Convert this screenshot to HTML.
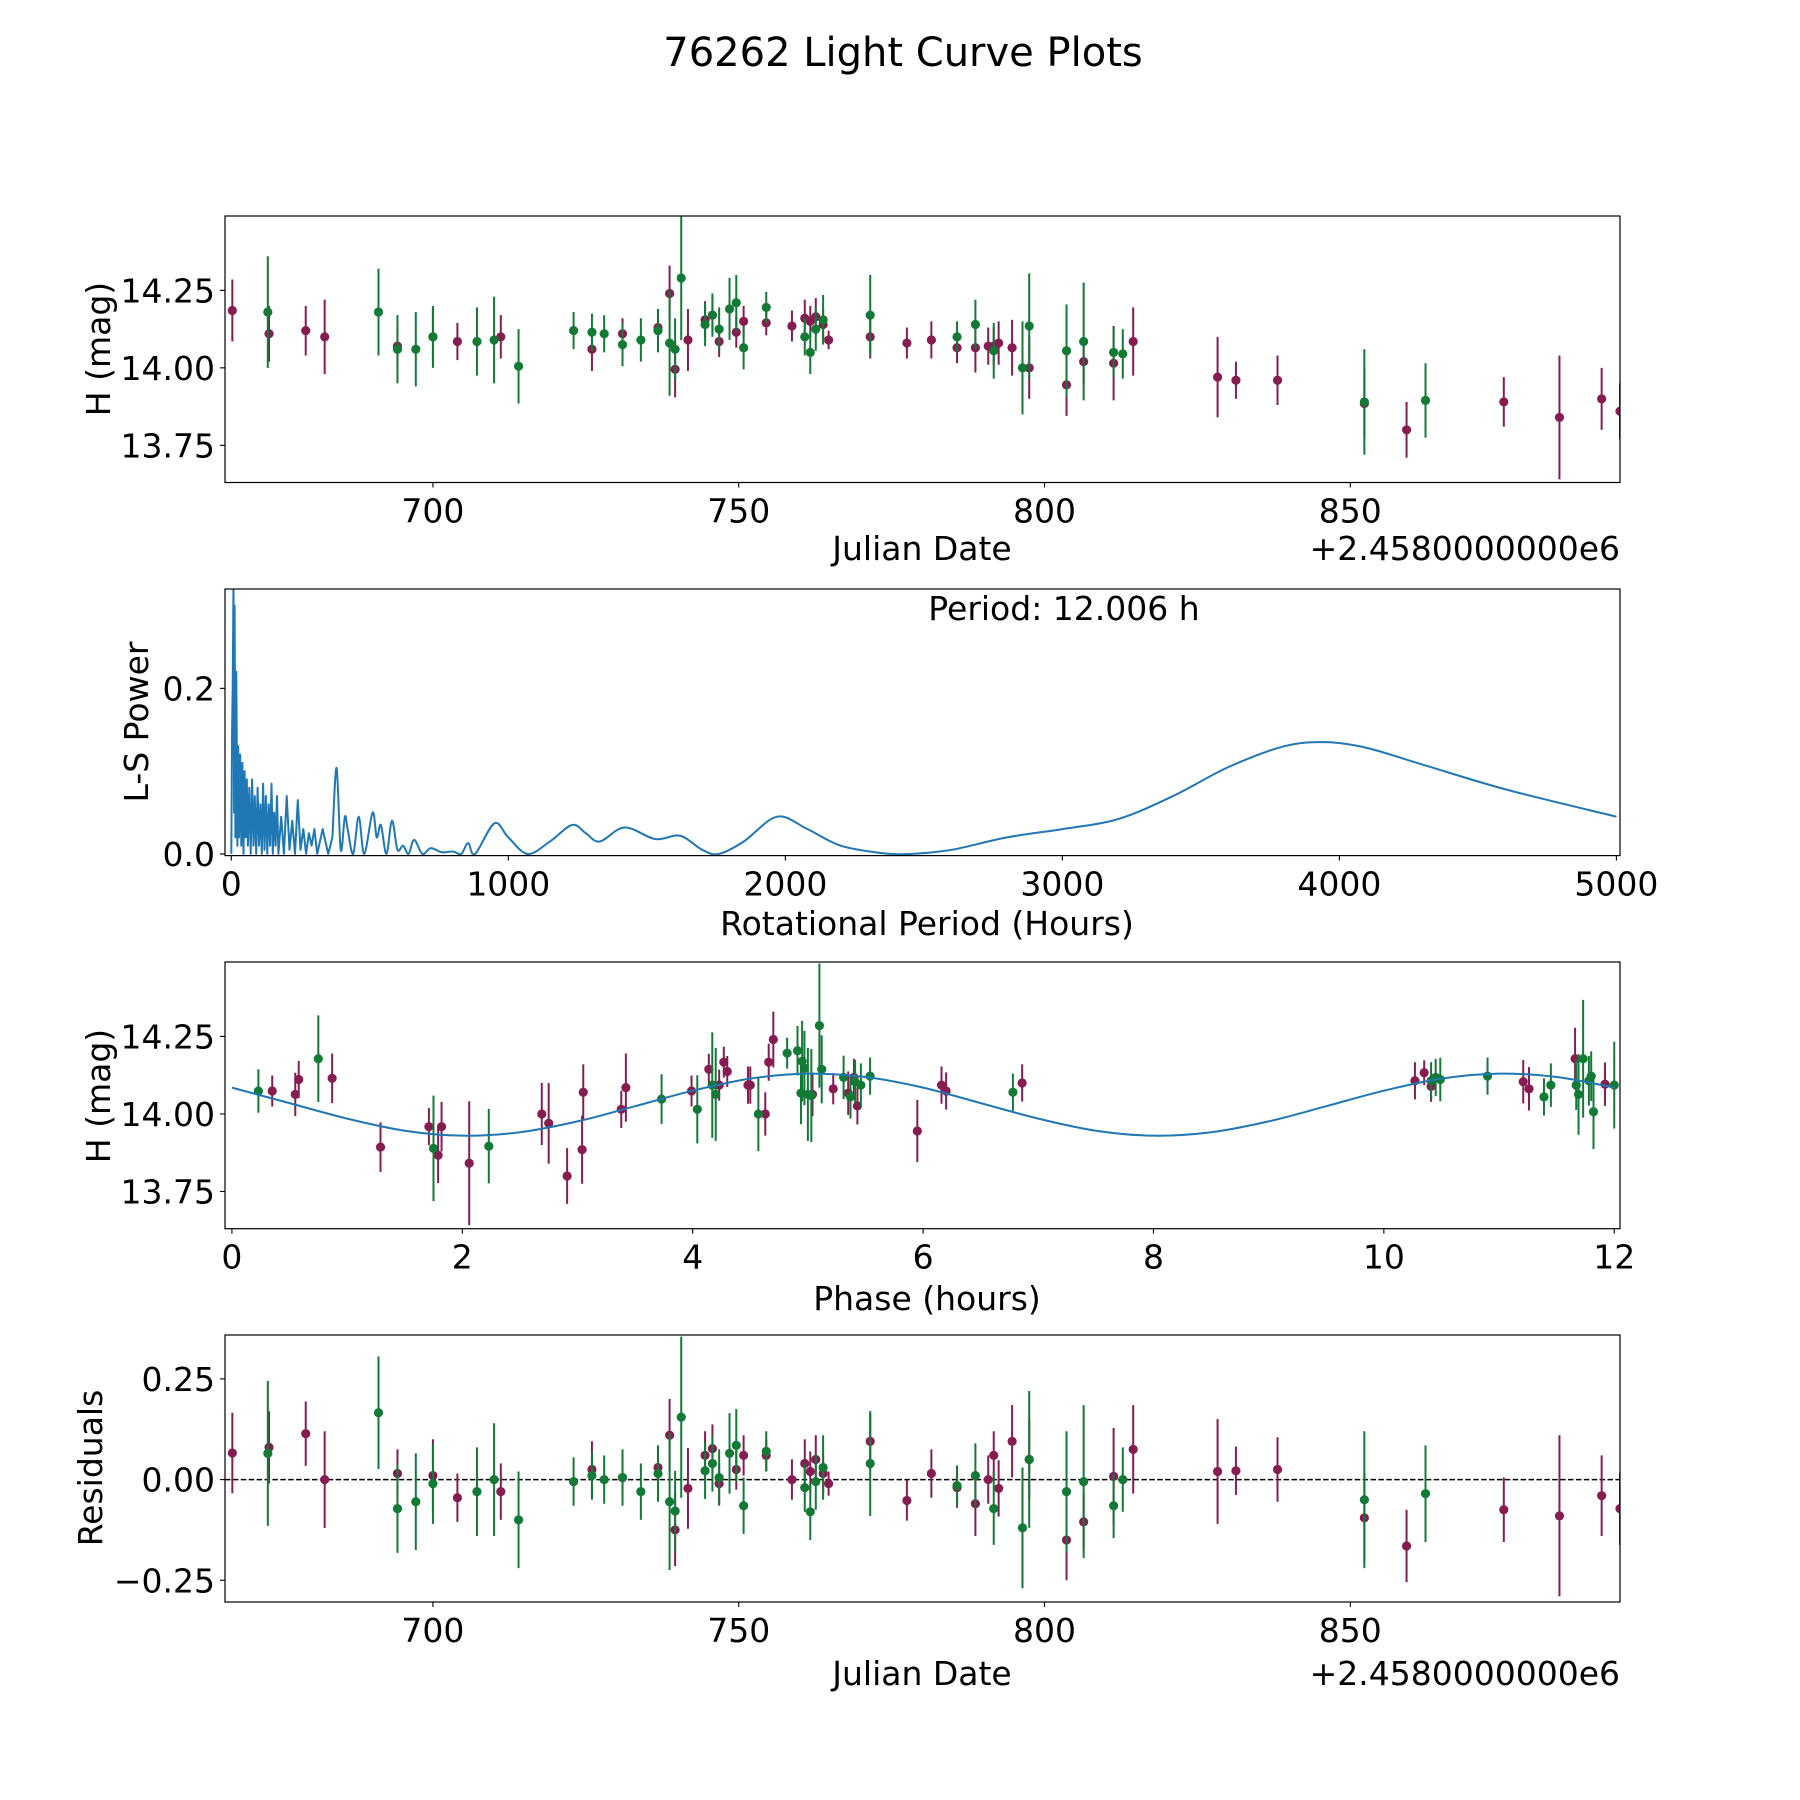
<!DOCTYPE html>
<html><head><meta charset="utf-8"><title>76262 Light Curve Plots</title>
<style>
html,body{margin:0;padding:0;background:#fff;}
svg{display:block;font-family:"DejaVu Sans","Liberation Sans",sans-serif;}
</style></head>
<body>
<svg id="fig" xmlns="http://www.w3.org/2000/svg" width="1800" height="1800" viewBox="0 0 1800 1800">
<rect width="1800" height="1800" fill="#fff"/>
<text x="903" y="66" font-size="40" text-anchor="middle">76262 Light Curve Plots</text>
</svg>
<script>
// ---- data: light curve (purple series) ----
const pDate=[667.2,673.2,679.2,682.3,694.2,700,704,711.1,726,731,736.8,738.7,739.6,741.7,744.5,745.7,746.8,749.6,750.8,754.5,758.7,760.8,761.7,762.6,763.8,764.7,771.5,777.5,781.5,785.7,788.7,790.8,791.7,792.5,794.7,797.5,803.6,806.4,811.3,814.5,828.3,831.3,838.1,852.3,859.2,875.1,884.2,891.1,894.1];
const pMag=[14.185,14.11,14.12,14.10,14.07,14.10,14.085,14.10,14.06,14.11,14.13,14.24,13.995,14.09,14.155,14.17,14.085,14.115,14.15,14.145,14.135,14.16,14.15,14.165,14.14,14.09,14.10,14.08,14.09,14.065,14.065,14.07,14.07,14.08,14.065,14.00,13.945,14.02,14.015,14.085,13.97,13.96,13.96,13.885,13.80,13.89,13.84,13.90,13.86];
const pErr=[0.10,0.09,0.08,0.12,0.06,0.09,0.06,0.07,0.07,0.05,0.05,0.09,0.09,0.10,0.06,0.06,0.05,0.05,0.05,0.04,0.05,0.06,0.05,0.06,0.05,0.03,0.07,0.05,0.06,0.05,0.08,0.06,0.06,0.07,0.09,0.10,0.10,0.07,0.12,0.11,0.13,0.06,0.08,0.11,0.09,0.08,0.20,0.10,0.09];
const pRes=[0.066,0.08,0.114,0.0,0.015,0.01,-0.045,-0.03,0.025,0.005,0.03,0.11,-0.125,-0.022,0.06,0.077,-0.01,0.025,0.06,0.06,0.0,0.04,0.02,0.05,0.015,-0.01,0.095,-0.052,0.015,-0.02,-0.06,0.0,0.06,-0.022,0.095,0.05,-0.15,-0.105,0.008,0.075,0.02,0.022,0.025,-0.095,-0.165,-0.075,-0.09,-0.04,-0.072];
// ---- data: light curve (green series) ----
const gDate=[673.0,691.1,694.2,697.2,700,707.2,710,714,723,726,728,731,734,736.8,738.7,739.6,740.6,744.5,745.7,746.8,748.5,749.6,750.8,754.5,760.8,761.7,762.6,763.8,771.5,785.7,788.7,791.7,796.4,797.5,803.6,806.4,811.3,812.8,852.3,862.3];
const gMag=[14.18,14.18,14.06,14.06,14.10,14.085,14.09,14.005,14.12,14.115,14.11,14.075,14.09,14.12,14.08,14.06,14.29,14.14,14.17,14.125,14.19,14.21,14.065,14.195,14.10,14.05,14.125,14.155,14.17,14.10,14.14,14.055,14.00,14.135,14.055,14.085,14.05,14.045,13.89,13.895];
const gErr=[0.18,0.14,0.11,0.12,0.10,0.11,0.14,0.12,0.06,0.06,0.06,0.07,0.07,0.07,0.17,0.10,0.20,0.07,0.07,0.07,0.10,0.09,0.07,0.05,0.06,0.07,0.07,0.08,0.13,0.05,0.08,0.09,0.15,0.17,0.15,0.19,0.08,0.08,0.17,0.12];
const gRes=[0.065,0.166,-0.072,-0.055,-0.01,-0.03,0.0,-0.10,-0.005,0.01,0.0,0.005,-0.03,0.015,-0.055,-0.078,0.155,0.022,0.04,0.005,0.065,0.085,-0.065,0.07,-0.02,-0.08,-0.005,0.03,0.04,-0.015,0.01,-0.072,-0.12,0.05,-0.03,-0.005,-0.065,0.0,-0.05,-0.035];
// ---- data: periodogram (dense short-period part + smooth long-period part) ----
const lsPeriod=[0,3,5,8,10,12,15,18,22,25,28,32,36,40,44,48,52,56,60,65,70,75,80,85,90,95,100,105,110,115,120,125,130,135,140,145,150,155,160,165,170,180,190,200,210,220,230,240,250,260,270,280,290,300,310,330,350,365];
const lsPower=[0.0,0.15,0.2,0.33,0.05,0.30,0.02,0.22,0.01,0.13,0.02,0.12,0.01,0.11,0.0,0.10,0.02,0.09,0.01,0.08,0.0,0.09,0.01,0.07,0.0,0.08,0.01,0.06,0.0,0.085,0.005,0.07,0.0,0.06,0.01,0.085,0.0,0.05,0.01,0.07,0.0,0.045,0.0,0.07,0.005,0.04,0.0,0.065,0.005,0.03,0.0,0.025,0.01,0.03,0.0,0.03,0.0,0.02];
const lsPeriodSmooth=[365,380,395,410,420,440,460,480,510,525,540,560,580,600,620,640,660,690,720,760,800,830,855,880,950,1000,1070,1150,1230,1280,1330,1420,1530,1620,1700,1760,1850,1970,2080,2200,2350,2450,2600,2800,3000,3200,3400,3600,3800,3950,4100,4300,4600,5000];
const lsPowerSmooth=[0.02,0.104,0.005,0.045,0.03,0.0,0.045,0.0,0.05,0.02,0.035,0.0,0.04,0.005,0.01,0.0,0.017,0.0,0.007,0.002,0.003,0.0,0.013,0.0,0.037,0.02,0.0,0.015,0.035,0.025,0.015,0.032,0.018,0.022,0.005,0.0,0.015,0.045,0.03,0.01,0.001,0.0,0.005,0.02,0.03,0.042,0.07,0.105,0.13,0.135,0.128,0.108,0.078,0.045];
const periodLabel="Period: 12.006 h";
// ---- data: phased light curve ----
const phP=[0.35,0.55,0.58,0.87,1.29,1.71,1.79,1.82,2.06,2.69,2.75,2.91,3.04,3.05,3.38,3.42,3.99,4.14,4.23,4.27,4.30,4.48,4.50,4.63,4.66,4.70,5.04,5.22,5.35,5.40,5.43,5.95,6.16,6.20,6.86,10.27,10.35,10.41,11.21,11.26,11.66,11.92];
const phPMag=[14.074,14.063,14.111,14.115,13.893,13.959,13.867,13.959,13.841,14.0,13.970,13.80,13.885,14.07,14.015,14.085,14.074,14.144,14.093,14.167,14.137,14.093,14.093,14.0,14.167,14.24,14.063,14.081,14.067,14.118,14.026,13.945,14.093,14.074,14.10,14.107,14.133,14.089,14.104,14.081,14.178,14.096];
const phPErr=[0.05,0.07,0.06,0.08,0.08,0.06,0.09,0.08,0.20,0.10,0.13,0.09,0.11,0.09,0.06,0.11,0.05,0.05,0.05,0.05,0.05,0.06,0.06,0.07,0.06,0.09,0.07,0.05,0.07,0.06,0.06,0.10,0.06,0.06,0.06,0.06,0.04,0.05,0.07,0.07,0.10,0.07];
const phG=[0.23,0.75,1.75,2.23,3.73,4.04,4.17,4.20,4.57,4.82,4.91,4.94,4.95,4.97,5.00,5.03,5.10,5.12,5.31,5.37,5.41,5.46,5.54,6.78,10.41,10.45,10.49,10.90,11.39,11.45,11.67,11.69,11.73,11.78,11.80,11.82,12.0];
const phGMag=[14.074,14.178,13.889,13.896,14.048,14.015,14.093,14.063,14.0,14.196,14.204,14.067,14.17,14.148,14.063,14.059,14.285,14.144,14.118,14.055,14.104,14.093,14.122,14.07,14.107,14.118,14.111,14.122,14.055,14.093,14.093,14.063,14.178,14.107,14.122,14.007,14.093];
const phGErr=[0.07,0.14,0.17,0.12,0.08,0.11,0.17,0.15,0.12,0.05,0.08,0.10,0.13,0.12,0.15,0.15,0.2,0.11,0.07,0.07,0.07,0.07,0.06,0.06,0.06,0.06,0.07,0.06,0.06,0.07,0.08,0.13,0.19,0.08,0.08,0.12,0.14];
const modelPhase=[0,0.5,1,1.5,2,2.5,3,3.5,4,4.5,5,5.5,6,6.5,7,7.5,8,8.5,9,9.5,10,10.5,11,11.5,12];
const modelMag=[14.085,14.035,13.985,13.946,13.93,13.941,13.976,14.025,14.075,14.114,14.13,14.119,14.085,14.035,13.985,13.946,13.93,13.941,13.976,14.025,14.075,14.114,14.13,14.119,14.085];
// ---- ticks ----
const jdTicks=[700,750,800,850];
const magTicks=[14.25,14.00,13.75];
const magTickLabels=["14.25","14.00","13.75"];
const lsXTicks=[0,1000,2000,3000,4000,5000];
const lsYTicks=[0.0,0.2];
const lsYTickLabels=["0.0","0.2"];
const phTicks=[0,2,4,6,8,10,12];
const resTicks=[0.25,0.00,-0.25];
const resTickLabels=["0.25","0.00","\u22120.25"];

const NS="http://www.w3.org/2000/svg";
const fig=document.getElementById('fig');
const PURPLE="#851d52", GREEN="#137a36", BLUE="#1f77b4";
const FS=33;
function mk(tag,attrs,parent){const e=document.createElementNS(NS,tag);for(const k in attrs)e.setAttribute(k,attrs[k]);(parent||fig).appendChild(e);return e;}
function axis(x0,x1,y0,y1,xmin,xmax,ymin,ymax){return {x0,x1,y0,y1,sx:v=>x0+(v-xmin)/(xmax-xmin)*(x1-x0),sy:v=>y1-(v-ymin)/(ymax-ymin)*(y1-y0)};}
const L=225,R=1620;
const A1=axis(L,R,216,482.5,666,894.1,13.63,14.49);
const A2=axis(L,R,589,855.6,-22.7,5013,-0.002,0.32);
const A3=axis(L,R,962,1228.7,-0.06,12.05,13.63,14.49);
const A4=axis(L,R,1335,1602,666,894.1,-0.304,0.359);

function frame(A,name){
  const g=mk('g',{});
  
  
  const clip=mk('clipPath',{id:name+'-clip'},g);
  mk('rect',{x:A.x0,y:A.y0,width:A.x1-A.x0,height:A.y1-A.y0},clip);
  const plot=mk('g',{'clip-path':'url(#'+name+'-clip)'},g);
  
  
  return {g,plot};
}
function border(A,g){
  const b=mk('rect',{x:A.x0,y:A.y0,width:A.x1-A.x0,height:A.y1-A.y0,fill:'none',stroke:'#000','stroke-width':1.2},g);
  
  
}
function xticks(A,g,ticks,labels){
  ticks.forEach((t,i)=>{const x=A.sx(t);
    mk('line',{x1:x,x2:x,y1:A.y1,y2:A.y1+5,stroke:'#000','stroke-width':1.1},g);
    const tx=mk('text',{x:x,y:A.y1+40,'font-size':FS,'text-anchor':'middle'},g);
    
    
    tx.textContent=labels[i];});
}
function yticks(A,g,ticks,labels){
  ticks.forEach((t,i)=>{const y=A.sy(t);
    mk('line',{x1:A.x0-5,x2:A.x0,y1:y,y2:y,stroke:'#000','stroke-width':1.1},g);
    const tx=mk('text',{x:A.x0-10,y:y+12,'font-size':FS,'text-anchor':'end'},g);
    
    
    tx.textContent=labels[i];});
}
function label(g,x,y,txt,rot,name){
  const t=mk('text',{x:x,y:y,'font-size':FS,'text-anchor':'middle'},g);
  if(rot)t.setAttribute('transform','rotate(-90 '+x+' '+y+')');
  
  
  t.textContent=txt;return t;
}
function errpoints(A,plot,xs,ys,es,color,name){
  xs.forEach((xv,i)=>{const x=A.sx(xv);
    const l=mk('line',{x1:x,x2:x,y1:A.sy(ys[i]+es[i]),y2:A.sy(ys[i]-es[i]),stroke:color,'stroke-width':2},plot);
    
    
    const c=mk('circle',{cx:x,cy:A.sy(ys[i]),r:4.6,fill:color},plot);
    
    
  });
}
function smoothPath(pts,start){
  let md=(start?'M'+pts[0][0]+' '+pts[0][1]:'');
  for(let i=0;i<pts.length-1;i++){const p0=pts[Math.max(i-1,0)],p1=pts[i],p2=pts[i+1],p3=pts[Math.min(i+2,pts.length-1)];
    md+=' C'+(p1[0]+(p2[0]-p0[0])/6)+' '+(p1[1]+(p2[1]-p0[1])/6)+' '+(p2[0]-(p3[0]-p1[0])/6)+' '+(p2[1]-(p3[1]-p1[1])/6)+' '+p2[0]+' '+p2[1];}
  return md;
}
const jdLabels=jdTicks.map(String);

// Panel 1
let f=frame(A1,'light-curve-panel');
errpoints(A1,f.plot,pDate,pMag,pErr,PURPLE,'purple');
errpoints(A1,f.plot,gDate,gMag,gErr,GREEN,'green');
border(A1,f.g);xticks(A1,f.g,jdTicks,jdLabels);yticks(A1,f.g,magTicks,magTickLabels);
label(f.g,922,560,'Julian Date',false,'x-axis-title');
let o=mk('text',{x:1620,y:560,'font-size':FS,'text-anchor':'end'},f.g);


o.textContent='+2.4580000000e6';
label(f.g,110,349,'H (mag)',true,'y-axis-title');

// Panel 2
f=frame(A2,'periodogram-panel');
let d=lsPeriod.map((p,i)=>(i?'L':'M')+A2.sx(p).toFixed(1)+' '+A2.sy(lsPower[i]).toFixed(1)).join(' ');
d+=' L'+A2.sx(lsPeriodSmooth[0]).toFixed(1)+' '+A2.sy(lsPowerSmooth[0]).toFixed(1);
d+=smoothPath(lsPeriodSmooth.map((p,i)=>[A2.sx(p),A2.sy(lsPowerSmooth[i])]),false);
let pl=mk('path',{d:d,fill:'none',stroke:BLUE,'stroke-width':2,'stroke-linejoin':'round'},f.plot);


border(A2,f.g);xticks(A2,f.g,lsXTicks,lsXTicks.map(String));yticks(A2,f.g,lsYTicks,lsYTickLabels);
let pt=mk('text',{x:1064,y:620,'font-size':FS,'text-anchor':'middle'},f.g);


pt.textContent=periodLabel;
label(f.g,927,935,'Rotational Period (Hours)',false,'x-axis-title');
label(f.g,148,722,'L-S Power',true,'y-axis-title');

// Panel 3
f=frame(A3,'phase-panel');
errpoints(A3,f.plot,phP,phPMag,phPErr,PURPLE,'purple');
errpoints(A3,f.plot,phG,phGMag,phGErr,GREEN,'green');
let ml=mk('path',{d:smoothPath(modelPhase.map((p,i)=>[A3.sx(p),A3.sy(modelMag[i])]),true),fill:'none',stroke:BLUE,'stroke-width':2},f.plot);


border(A3,f.g);xticks(A3,f.g,phTicks,phTicks.map(String));yticks(A3,f.g,magTicks,magTickLabels);
label(f.g,927,1310,'Phase (hours)',false,'x-axis-title');
label(f.g,110,1096,'H (mag)',true,'y-axis-title');

// Panel 4
f=frame(A4,'residuals-panel');
let z=mk('line',{x1:L,x2:R,y1:A4.sy(0),y2:A4.sy(0),stroke:'#000','stroke-width':1.5,'stroke-dasharray':'5.5,2.4'},f.plot);


errpoints(A4,f.plot,pDate,pRes,pErr,PURPLE,'purple');
errpoints(A4,f.plot,gDate,gRes,gErr,GREEN,'green');
border(A4,f.g);xticks(A4,f.g,jdTicks,jdLabels);yticks(A4,f.g,resTicks,resTickLabels);
label(f.g,922,1685,'Julian Date',false,'x-axis-title');
o=mk('text',{x:1620,y:1685,'font-size':FS,'text-anchor':'end'},f.g);


o.textContent='+2.4580000000e6';
label(f.g,102,1468,'Residuals',true,'y-axis-title');
</script>
</body></html>
